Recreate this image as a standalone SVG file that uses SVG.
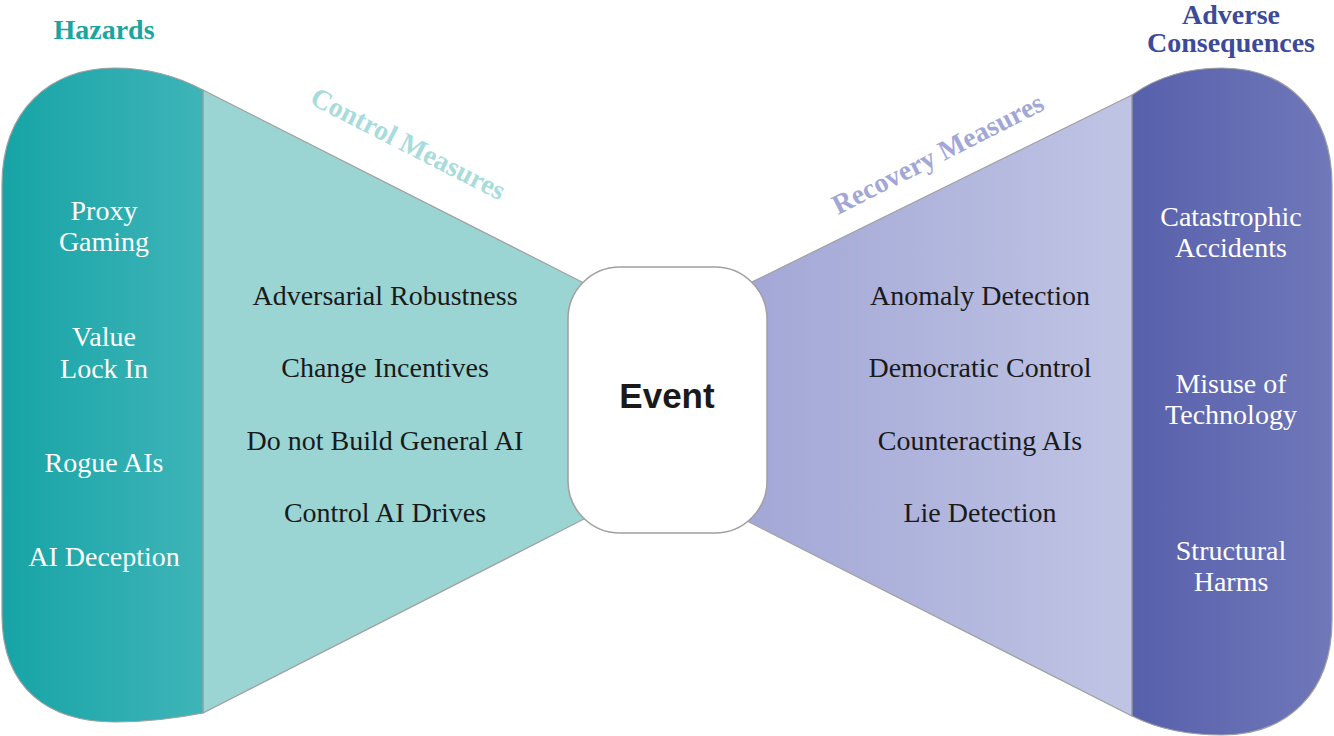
<svg xmlns="http://www.w3.org/2000/svg" width="1334" height="736" viewBox="0 0 1334 736">
<style>
.t{font-family:"Liberation Serif",serif;font-size:28px;text-anchor:middle}
.w{fill:#fff}
.d{fill:#1a1a1a}
.h{font-family:"Liberation Serif",serif;font-weight:bold;font-size:28px;text-anchor:middle}
.s{stroke:#a0a0a0;stroke-width:1.2}
</style>
<defs>
<linearGradient id="gl" x1="0" x2="1"><stop offset="0" stop-color="#17a4a6"/><stop offset="1" stop-color="#3eb4b8"/></linearGradient>
<linearGradient id="gr" x1="0" x2="1"><stop offset="0" stop-color="#a2a7d6"/><stop offset="1" stop-color="#c0c4e4"/></linearGradient>
<linearGradient id="gp" x1="0" x2="1"><stop offset="0" stop-color="#5760ab"/><stop offset="1" stop-color="#7078ba"/></linearGradient>
</defs>
<g id="connectors">
<path class="s" d="M203,90 L588,285 L588,517 L203,713 Z" fill="#9ad4d3"/>
<path class="s" d="M1132,95 L750,283 L745,520 L1132,716 Z" fill="url(#gr)"/>
</g>
<g id="hazards">
<path class="s" d="M203,90 C175,75 145,68 115,68 C50,68 2,110 2,185 L2,615 C2,690 50,722 115,722 C145,722 178,718 203,713 Z" fill="url(#gl)"/>
<text class="h" x="104" y="39" fill="#1aa6a0">Hazards</text>
<text class="t w" x="104" y="220">Proxy</text><text class="t w" x="104" y="251">Gaming</text>
<text class="t w" x="104" y="346">Value</text><text class="t w" x="104" y="378">Lock In</text>
<text class="t w" x="104" y="472">Rogue AIs</text>
<text class="t w" x="104" y="566">AI Deception</text>
</g>
<g id="control">
<text class="h" font-size="30" fill="#a8dcdc" transform="translate(404,152) rotate(27)">Control Measures</text>
<text class="t d" x="385" y="305">Adversarial Robustness</text>
<text class="t d" x="385" y="377">Change Incentives</text>
<text class="t d" x="385" y="450">Do not Build General AI</text>
<text class="t d" x="385" y="522">Control AI Drives</text>
</g>
<g id="event">
<rect x="568" y="267" width="199" height="266" rx="52" fill="#fff" stroke="#a0a0a0" stroke-width="1.5"/>
<text x="667" y="408" font-family="Liberation Sans,sans-serif" font-weight="bold" font-size="35" text-anchor="middle" fill="#1a1a1a">Event</text>
</g>
<g id="recovery">
<text class="h" font-size="30" fill="#a2a7d6" transform="translate(942,162) rotate(-27)">Recovery Measures</text>
<text class="t d" x="980" y="305">Anomaly Detection</text>
<text class="t d" x="980" y="377">Democratic Control</text>
<text class="t d" x="980" y="450">Counteracting AIs</text>
<text class="t d" x="980" y="522">Lie Detection</text>
</g>
<g id="consequences">
<path class="s" d="M1132,95 C1160,75 1190,68 1222,68 C1285,68 1332,110 1332,185 L1332,620 C1332,695 1285,735 1222,735 C1190,735 1160,730 1132,716 Z" fill="url(#gp)"/>
<text class="h" x="1231" y="24" fill="#3c4a9a">Adverse</text>
<text class="h" x="1231" y="52" fill="#3c4a9a">Consequences</text>
<text class="t w" x="1231" y="226">Catastrophic</text><text class="t w" x="1231" y="257">Accidents</text>
<text class="t w" x="1231" y="393">Misuse of</text><text class="t w" x="1231" y="424">Technology</text>
<text class="t w" x="1231" y="560">Structural</text><text class="t w" x="1231" y="591">Harms</text>
</g>
</svg>
